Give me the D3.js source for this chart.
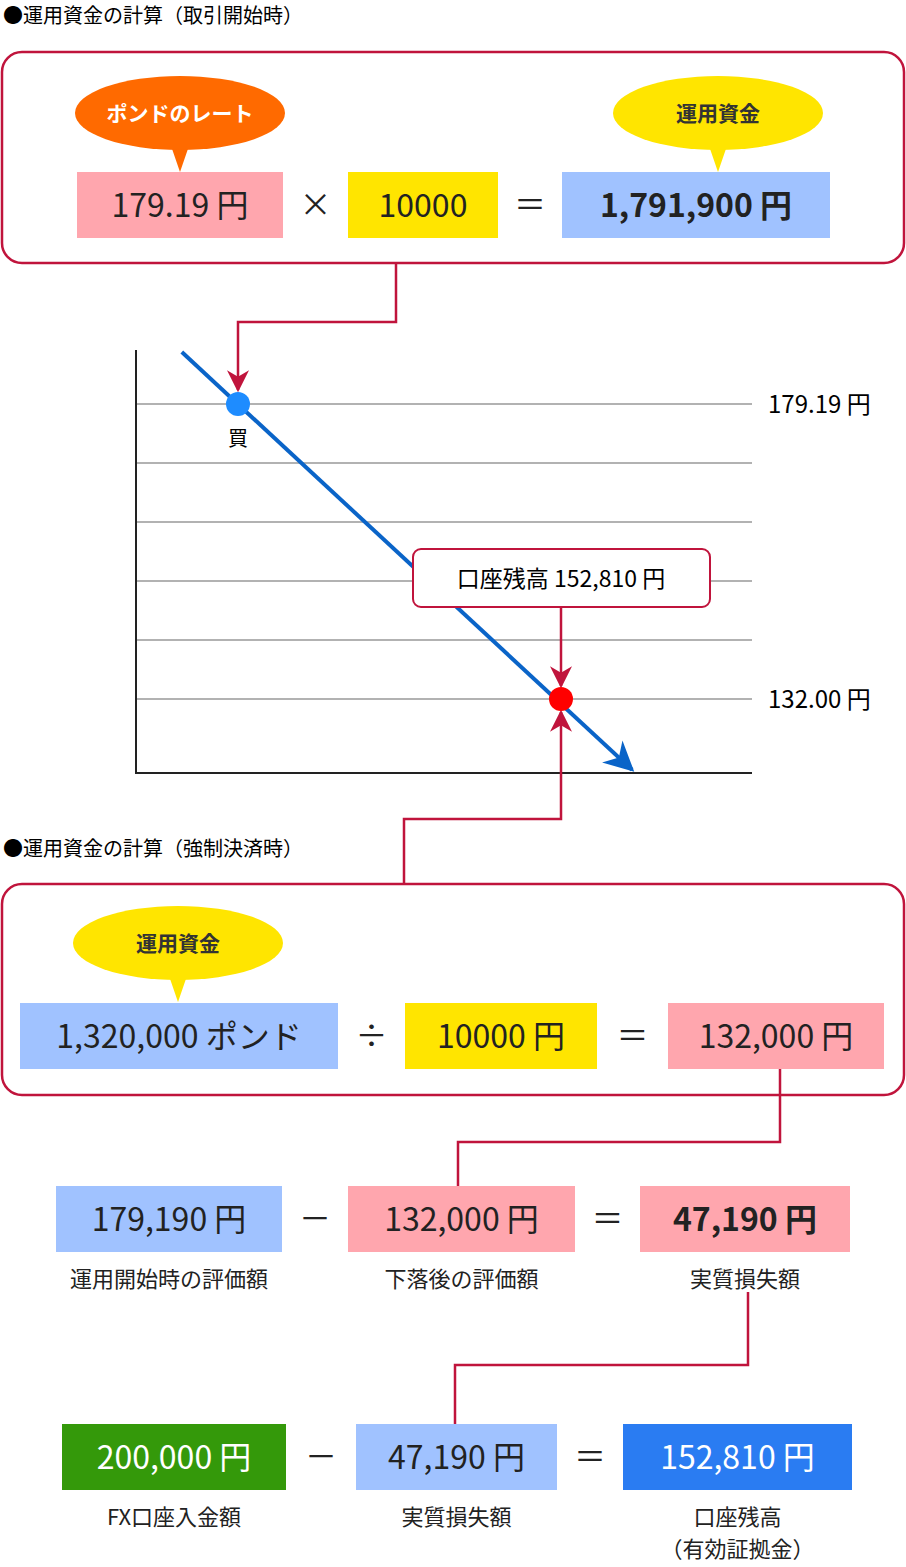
<!DOCTYPE html>
<html><head><meta charset="utf-8">
<script src="https://cdn.jsdelivr.net/npm/d3@7"></script>
<style>body{margin:0;background:#fff}svg{display:block}text{font-family:"Noto Sans CJK JP","Noto Sans",sans-serif}</style>
</head><body>
<script>
const titles = ["●運用資金の計算（取引開始時）", "●運用資金の計算（強制決済時）"];
const priceLabels = ["179.19 円", "132.00 円"];
const gridIndex = [0,1,2,3,4,5];
const buyIndex = 0, sellIndex = 5;
const row1 = [{t:"179.19 円",c:"#ffa6ae",x0:77,x1:283},{t:"10000",c:"#ffe500",x0:348,x1:498},{t:"1,791,900 円",c:"#a0c2ff",x0:562,x1:830,b:true}];
const row2 = [{t:"1,320,000 ポンド",c:"#a0c2ff",x0:20,x1:338},{t:"10000 円",c:"#ffe500",x0:405,x1:597},{t:"132,000 円",c:"#ffa6ae",x0:668,x1:884}];
const row3 = [{t:"179,190 円",c:"#a0c2ff",x0:56,x1:282,l:["運用開始時の評価額"]},{t:"132,000 円",c:"#ffa6ae",x0:348,x1:575,l:["下落後の評価額"]},{t:"47,190 円",c:"#ffa6ae",x0:640,x1:850,b:true,l:["実質損失額"]}];
const row4 = [{t:"200,000 円",c:"#34990a",x0:62,x1:286,w:true,l:["FX口座入金額"]},{t:"47,190 円",c:"#a0c2ff",x0:356,x1:557,l:["実質損失額"]},{t:"152,810 円",c:"#2a7cf2",x0:623,x1:852,w:true,l:["口座残高","（有効証拠金）"]}];
const ops = [["×","＝"],["÷","＝"],["－","＝"],["－","＝"]];
const balanceLabel = "口座残高 152,810 円";
const RED="#c0143c";
const svg=d3.select("body").append("svg").attr("width",906).attr("height",1567);
const defs=svg.append("defs");
function marker(id,col,w,h){defs.append("marker").attr("id",id).attr("viewBox","0 0 10 10").attr("refX",9).attr("refY",5).attr("markerWidth",w).attr("markerHeight",h).attr("orient","auto").attr("markerUnits","userSpaceOnUse").append("path").attr("d","M0,0L10,5L0,10L3,5Z").attr("fill",col);}
marker("ar",RED,26,22);marker("ab","#0a64c8",36,30);
svg.append("text").attr("x",3).attr("y",23).attr("font-size",20).text(titles[0]);
svg.append("text").attr("x",3).attr("y",856).attr("font-size",20).text(titles[1]);
[[52,263],[884,1095]].forEach(([a,b])=>svg.append("rect").attr("x",2).attr("y",a).attr("width",902).attr("height",b-a).attr("rx",20).attr("fill","#fff").attr("stroke",RED).attr("stroke-width",2.5));
function bubble(cx,cy,tip,col,txt,tc){svg.append("path").attr("d",`M${cx-10},${cy+30}L${cx},${tip}L${cx+10},${cy+30}Z`).attr("fill",col);
svg.append("ellipse").attr("cx",cx).attr("cy",cy).attr("rx",105).attr("ry",37).attr("fill",col);
svg.append("text").attr("x",cx).attr("y",cy+8).attr("text-anchor","middle").attr("font-size",21).attr("font-weight",700).attr("fill",tc).text(txt);}
bubble(180,113,172,"#ff6a00","ポンドのレート","#fff");bubble(718,113,172,"#ffe500","運用資金","#333");bubble(178,943,1002,"#ffe500","運用資金","#333");
function row(items,y,opsr){items.forEach(d=>{svg.append("rect").attr("x",d.x0).attr("y",y).attr("width",d.x1-d.x0).attr("height",66).attr("fill",d.c);
svg.append("text").attr("x",(d.x0+d.x1)/2).attr("y",y+45).attr("text-anchor","middle").attr("font-size",32).attr("font-weight",d.b?700:400).attr("fill",d.w?"#fff":"#222").text(d.t);
(d.l||[]).forEach((s,i)=>svg.append("text").attr("x",(d.x0+d.x1)/2).attr("y",y+101+i*32).attr("text-anchor","middle").attr("font-size",22).attr("fill","#222").text(s));});
opsr.forEach((o,i)=>{const x=(items[i].x1+items[i+1].x0)/2;svg.append("text").attr("x",x).attr("y",y+44).attr("text-anchor","middle").attr("font-size",32).attr("fill","#222").text(o);});}
row(row1,172,ops[0]);row(row2,1003,ops[1]);row(row3,1186,ops[2]);row(row4,1424,ops[3]);
// chart
const y=d3.scaleLinear().domain([0,5]).range([404,699]);
const x=d3.scaleLinear().domain([0,5]).range([238,561]);
gridIndex.forEach(i=>svg.append("line").attr("x1",136).attr("x2",752).attr("y1",y(i)).attr("y2",y(i)).attr("stroke","#999").attr("stroke-width",1.5));
svg.append("path").attr("d","M136,350V773H752").attr("fill","none").attr("stroke","#222").attr("stroke-width",2);
svg.append("text").attr("x",768).attr("y",y(buyIndex)+9).attr("font-size",24).text(priceLabels[0]);
svg.append("text").attr("x",768).attr("y",y(sellIndex)+9).attr("font-size",24).text(priceLabels[1]);
svg.append("line").attr("x1",x(-0.87)).attr("y1",y(-0.88)).attr("x2",x(6.1)).attr("y2",y(6.2)).attr("stroke","#0a64c8").attr("stroke-width",4).attr("marker-end","url(#ab)");
const poly=(pts,m)=>svg.append("path").attr("d",d3.line()(pts)).attr("fill","none").attr("stroke",RED).attr("stroke-width",2.5).attr("marker-end",m?"url(#ar)":null);
poly([[396,263],[396,322],[238,322],[238,390]],true);
svg.append("circle").attr("cx",x(buyIndex)).attr("cy",y(buyIndex)).attr("r",12).attr("fill","#1e8cff");
svg.append("text").attr("x",x(buyIndex)).attr("y",446).attr("text-anchor","middle").attr("font-size",20).text("買");
svg.append("rect").attr("x",413).attr("y",549).attr("width",297).attr("height",58).attr("rx",8).attr("fill","#fff").attr("stroke",RED).attr("stroke-width",2);
svg.append("text").attr("x",561).attr("y",587).attr("text-anchor","middle").attr("font-size",23).text(balanceLabel);
poly([[561,607],[561,686]],true);
poly([[404,884],[404,819],[561,819],[561,712]],true);
svg.append("circle").attr("cx",x(sellIndex)).attr("cy",y(sellIndex)).attr("r",12).attr("fill","#ff0000");
poly([[780,1069],[780,1142],[458,1142],[458,1186]]);
poly([[748,1292],[748,1365],[455,1365],[455,1424]]);
</script></body></html>
